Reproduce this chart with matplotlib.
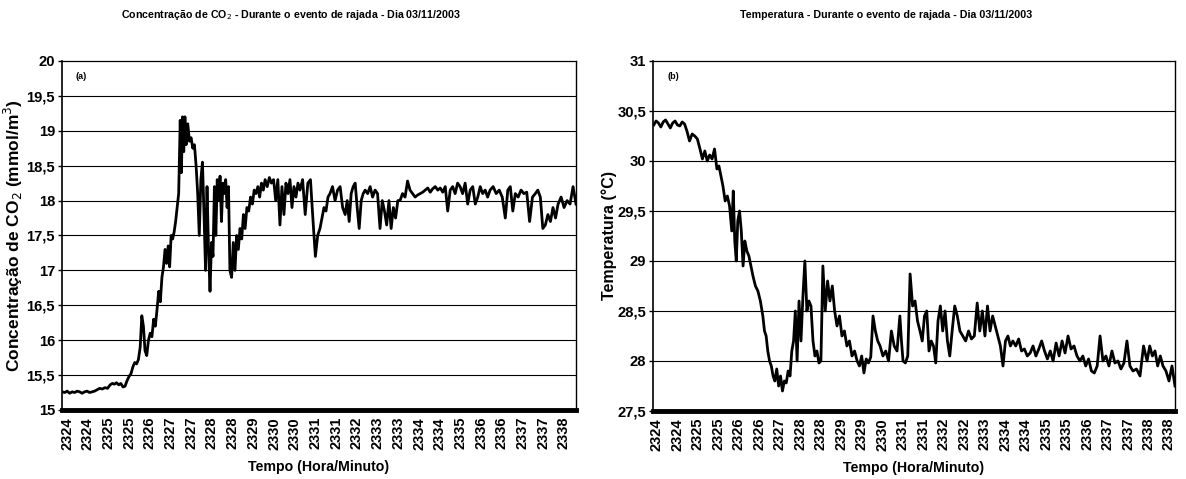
import numpy as np
import matplotlib
matplotlib.use("Agg")
import matplotlib.pyplot as plt
from matplotlib import font_manager

# --- data (time in minutes after 23:24) ---
# each segment: (t_start, t_end, values)
co2_segments = [
    (-0.14, 0.87, [15.26, 15.25, 15.27, 15.24, 15.26, 15.25, 15.27, 15.26, 15.24, 15.26, 15.27, 15.25, 15.26, 15.27]),
    (0.87, 1.25, [15.29, 15.31, 15.30, 15.32, 15.31]),
    (1.25, 1.62, [15.36, 15.38, 15.37, 15.39, 15.36, 15.38]),
    (1.62, 1.74, [15.33, 15.34]),
    (1.74, 1.91, [15.42, 15.48, 15.52]),
    (1.91, 2.12, [15.62, 15.68, 15.66, 15.72]),
    (2.12, 2.26, [15.90, 16.35, 16.20]),
    (2.26, 2.41, [15.85, 15.78, 16.00]),
    (2.41, 2.61, [16.10, 16.05, 16.30, 16.20]),
    (2.61, 2.75, [16.45, 16.70, 16.55]),
    (2.75, 2.93, [16.90, 17.05, 17.30, 17.10]),
    (2.93, 3.19, [17.35, 17.05, 17.50, 17.45, 17.55, 17.70]),
    (3.19, 3.28, [17.90, 18.10]),
    (3.28, 3.45, [19.15, 18.40, 19.20, 18.70, 19.20]),
    (3.45, 3.74, [18.80, 19.10, 18.85, 18.90, 18.75, 18.80]),
    (3.74, 3.97, [18.50, 18.10, 17.50, 18.30, 18.55]),
    (3.97, 4.23, [17.80, 17.00, 18.20, 17.30, 16.70, 17.40]),
    (4.23, 4.72, [17.20, 18.20, 17.50, 18.30, 18.00, 18.35, 17.70, 18.25, 18.10, 18.30, 17.90, 18.20]),
    (4.72, 5.16, [17.00, 16.90, 17.40, 17.00, 17.50, 17.30, 17.60, 17.45, 17.80]),
    (5.16, 5.74, [17.60, 17.90, 17.85, 18.05, 17.95, 18.15, 18.10, 18.20, 18.05, 18.25, 18.15]),
    (5.74, 6.17, [18.30, 18.20, 18.33, 18.25, 18.30, 18.00, 18.30]),
    (6.17, 6.75, [17.65, 18.20, 17.80, 18.25, 18.10, 18.30, 17.90, 18.20, 18.05, 18.25]),
    (6.75, 7.13, [18.15, 18.30, 17.80, 18.25, 18.30]),
    (7.13, 7.33, [17.70, 17.20, 17.50]),
    (7.33, 7.62, [17.60, 17.75, 17.90, 17.85, 18.05]),
    (7.62, 8.06, [18.10, 18.20, 18.00, 18.15, 18.20, 17.90]),
    (8.06, 8.35, [17.80, 18.00, 17.70, 18.10, 18.20]),
    (8.35, 8.64, [18.25, 17.90, 17.60, 18.00, 18.10]),
    (8.64, 9.07, [18.15, 18.10, 18.20, 18.05, 18.15, 18.10]),
    (9.07, 9.65, [17.60, 18.00, 17.85, 17.65, 18.00, 17.60, 17.90, 17.75, 18.00]),
    (9.65, 9.94, [18.00, 18.10, 18.05, 18.28]),
    (9.94, 10.38, [18.15, 18.10, 18.05, 18.08, 18.10, 18.12]),
    (10.38, 10.96, [18.15, 18.18, 18.12, 18.17, 18.20, 18.15, 18.18, 18.12]),
    (10.96, 11.39, [18.20, 17.85, 18.15, 18.20, 18.10, 18.25]),
    (11.39, 11.83, [18.20, 18.10, 18.25, 17.95, 18.15, 18.20]),
    (11.83, 12.26, [17.95, 18.05, 18.20, 18.10, 18.15, 18.05]),
    (12.26, 12.70, [18.15, 18.20, 18.10, 18.15, 18.05]),
    (12.70, 12.99, [17.75, 18.15, 18.20, 17.85]),
    (12.99, 13.57, [18.10, 18.05, 18.15, 18.10, 18.12, 17.70, 18.05]),
    (13.57, 13.86, [18.10, 18.15, 18.05, 17.60]),
    (13.86, 14.23, [17.65, 17.80, 17.70, 17.90, 17.75]),
    (14.23, 14.75, [17.95, 18.05, 17.90, 18.00, 17.95, 18.20, 17.95]),
]

temp_segments = [
    (-0.09, 0.85, [30.36, 30.40, 30.38, 30.34, 30.39, 30.41, 30.37, 30.33, 30.38, 30.40, 30.36, 30.35, 30.39, 30.37]),
    (0.85, 1.22, [30.30, 30.20, 30.27, 30.25, 30.22]),
    (1.22, 1.70, [30.12, 30.02, 30.10, 30.00, 30.06, 30.02, 30.12]),
    (1.70, 1.87, [29.92, 29.95, 29.85]),
    (1.87, 2.12, [29.75, 29.60, 29.65, 29.55]),
    (2.12, 2.29, [29.30, 29.70, 29.20, 29.00]),
    (2.29, 2.49, [29.40, 29.50, 29.30, 28.95]),
    (2.49, 2.72, [29.20, 29.10, 29.05, 28.95]),
    (2.72, 3.00, [28.85, 28.75, 28.70, 28.60]),
    (3.00, 3.14, [28.45, 28.30, 28.25]),
    (3.14, 3.34, [28.10, 28.00, 27.95, 27.85]),
    (3.34, 3.77, [27.80, 27.92, 27.75, 27.85, 27.70, 27.80, 27.78, 27.90]),
    (3.77, 3.97, [27.85, 28.10, 28.20, 28.50]),
    (3.97, 4.19, [28.00, 28.60, 28.20, 28.65]),
    (4.19, 4.42, [29.00, 28.50, 28.60, 28.55]),
    (4.42, 4.70, [28.20, 28.05, 28.10, 27.98, 28.00]),
    (4.70, 5.10, [28.95, 28.50, 28.80, 28.60, 28.75, 28.50]),
    (5.10, 5.38, [28.35, 28.45, 28.25, 28.30]),
    (5.38, 5.67, [28.15, 28.20, 28.05, 28.10]),
    (5.67, 6.12, [28.00, 27.95, 28.05, 27.88, 28.02, 27.98, 28.04]),
    (6.12, 6.32, [28.45, 28.30, 28.20]),
    (6.32, 6.88, [28.15, 28.05, 28.10, 28.00, 28.30, 28.15, 28.10]),
    (6.88, 6.97, [28.45, 28.20]),
    (6.97, 7.17, [28.00, 27.98, 28.05]),
    (7.17, 7.45, [28.87, 28.55, 28.60, 28.40]),
    (7.45, 7.96, [28.30, 28.20, 28.45, 28.50, 28.10, 28.20, 28.15, 27.98]),
    (7.96, 8.36, [28.40, 28.55, 28.30, 28.50, 28.20, 28.05]),
    (8.36, 8.58, [28.30, 28.55, 28.45]),
    (8.58, 9.07, [28.30, 28.25, 28.20, 28.30, 28.22, 28.25]),
    (9.07, 9.58, [28.58, 28.30, 28.50, 28.25, 28.55, 28.30, 28.45]),
    (9.58, 9.80, [28.35, 28.25, 28.15]),
    (9.80, 10.08, [27.95, 28.20, 28.25, 28.15]),
    (10.08, 10.57, [28.20, 28.15, 28.22, 28.10, 28.12, 28.05]),
    (10.57, 11.22, [28.08, 28.15, 28.05, 28.12, 28.20, 28.10, 28.02, 28.10]),
    (11.22, 11.98, [28.00, 28.18, 28.05, 28.20, 28.08, 28.25, 28.12, 28.15, 28.05]),
    (11.98, 12.63, [28.00, 28.05, 27.95, 28.02, 27.90, 27.88, 27.95, 28.25]),
    (12.63, 13.48, [28.00, 28.05, 27.95, 28.10, 27.98, 28.00, 27.92, 27.98, 28.20, 27.95]),
    (13.48, 13.88, [27.90, 27.92, 27.85, 28.15]),
    (13.88, 14.33, [28.00, 28.15, 28.05, 28.10, 27.95, 28.05]),
    (14.33, 14.67, [27.95, 27.90, 27.80, 27.95, 27.75]),
]

co2_ticklabels = ['2324', '2324', '2325', '2325', '2326', '2327', '2327', '2328', '2328',
                  '2329', '2330', '2330', '2331', '2331', '2332', '2333', '2333', '2334',
                  '2334', '2335', '2336', '2336', '2337', '2337', '2338']
temp_ticklabels = ['2324', '2324', '2325', '2325', '2326', '2326', '2327', '2328', '2328',
                   '2329', '2329', '2330', '2331', '2331', '2332', '2332', '2333', '2334',
                   '2334', '2335', '2335', '2336', '2337', '2337', '2338', '2338']

co2_yticks = [15, 15.5, 16, 16.5, 17, 17.5, 18, 18.5, 19, 19.5, 20]
temp_yticks = [27.5, 28, 28.5, 29, 29.5, 30, 30.5, 31]


def build(segments):
    xs, ys = [], []
    for i, (t0, t1, vals) in enumerate(segments):
        last = i == len(segments) - 1
        xs.append(np.linspace(t0, t1, len(vals), endpoint=last))
        ys.append(np.array(vals))
    return np.concatenate(xs), np.concatenate(ys)


def fmt(v):
    s = ('%g' % v)
    return s.replace('.', ',')


# narrow face if one is installed, otherwise plain Liberation Sans
installed = {f.name for f in font_manager.fontManager.ttflist}
narrow_name = 'Liberation Sans'
for cand in ['Liberation Sans Narrow', 'DejaVu Sans Condensed']:
    if cand in installed:
        narrow_name = cand
        break
narrow = [narrow_name, 'DejaVu Sans']
plain = ['Liberation Sans', 'DejaVu Sans']
nsize = 1.0 if narrow_name != 'Liberation Sans' else 0.85

fig = plt.figure(figsize=(11.86, 4.79), dpi=100)
ax1 = fig.add_axes([0.0523, 0.1441, 0.4334, 0.7286])
ax2 = fig.add_axes([0.5506, 0.1420, 0.4401, 0.7307])


def style(ax, yticks, ticklabels, spacing, xlim):
    ax.set_ylim(yticks[0], yticks[-1])
    ax.set_xlim(*xlim)
    ax.set_yticks(yticks)
    ax.set_yticklabels([fmt(v) for v in yticks], family=narrow, fontsize=12.5 * nsize,
                       fontweight='bold')
    ax.set_xticks(np.arange(len(ticklabels)) * spacing)
    ax.set_xticklabels(ticklabels, rotation=90, family=plain, fontsize=10.5, fontweight='bold')
    ax.tick_params(axis='x', length=0, pad=5)
    ax.tick_params(axis='y', length=3, width=1, direction='out', pad=2)
    for v in yticks[1:-1]:
        ax.axhline(v, color='black', lw=0.8, zorder=1)
    ax.spines['top'].set_linewidth(0.9)
    ax.spines['left'].set_linewidth(1.2)
    ax.spines['right'].set_linewidth(1.0)
    ax.spines['bottom'].set_linewidth(3.5)
    ax.set_xlabel('Tempo (Hora/Minuto)', family=narrow, fontsize=12 * nsize, fontweight='bold')
    ax.xaxis.set_label_coords(0.5, -0.143)


x1, y1 = build(co2_segments)
ax1.plot(x1, y1, color='black', lw=2.0, zorder=3)
style(ax1, co2_yticks, co2_ticklabels, 0.6, (-0.145, 14.75))
ax1.set_ylabel('Concentração de CO$_2$ (mmol/m$^3$)', family=plain, fontsize=12.5,
               fontweight='bold')
ax1.yaxis.set_label_coords(-0.073, 0.5)
ax1.text(0.027, 0.955, '(a)', transform=ax1.transAxes, family=narrow, fontsize=6.5,
         fontweight='bold', va='center')

x2, y2 = build(temp_segments)
ax2.plot(x2, y2, color='black', lw=2.0, zorder=3)
style(ax2, temp_yticks, temp_ticklabels, 0.58, (-0.11, 14.67))
ax2.set_ylabel('Temperatura (°C)', family=plain, fontsize=11.5, fontweight='bold')
ax2.yaxis.set_label_coords(-0.069, 0.5)
ax2.text(0.027, 0.955, '(b)', transform=ax2.transAxes, family=narrow, fontsize=6.5,
         fontweight='bold', va='center')

fig.text(0.245, 0.968, 'Concentração de CO$_2$ - Durante o evento de rajada - Dia 03/11/2003',
         ha='center', va='center', family=narrow, fontsize=9 * nsize, fontweight='bold')
fig.text(0.747, 0.968, 'Temperatura - Durante o evento de rajada - Dia 03/11/2003',
         ha='center', va='center', family=narrow, fontsize=9 * nsize, fontweight='bold')

fig.savefig('out.png', dpi=100)
